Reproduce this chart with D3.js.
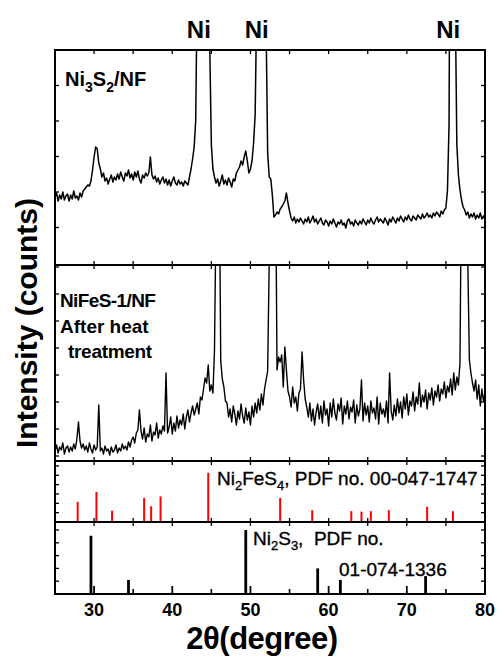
<!DOCTYPE html>
<html><head><meta charset="utf-8">
<script src="https://cdn.jsdelivr.net/npm/d3@7"></script>
<style>html,body{margin:0;padding:0;background:#fff}svg{display:block}</style>
</head><body>
<script>
// ---------------- DATA ----------------
const thetaStart = 25, thetaStep = 0.2;           // measurement grid (2θ, degree)
const xTicksMajor = [30, 40, 50, 60, 70, 80];
const xTickLabels = ["30", "40", "50", "60", "70", "80"];
const xTicksMinor = [35, 45, 55, 65, 75];

// Ni3S2/NF intensity (a.u.), 25.0 .. 80.0 step 0.2
const ni3s2 = [
 68,72,64,70,66,73,65,69,71,64,
 70,66,74,67,69,65,72,68,74,76,
 78,80,79,84,95,108,118,116,102,96,
 88,92,84,87,81,86,90,83,88,85,
 91,86,93,88,84,92,89,95,87,91,
 85,93,88,94,86,82,90,87,92,89,
 92,108,90,86,89,83,87,81,85,88,
 82,86,80,85,79,84,88,82,80,85,
 81,83,79,84,82,80,88,96,106,118,
 145,290,520,800,980,1000,880,620,420,215,
 120,96,88,82,86,79,84,90,81,85,
 80,87,83,78,86,84,92,95,98,104,
 100,108,114,104,92,96,104,122,150,260,
 600,900,1000,850,500,240,112,88,86,70,
 48,50,53,51,56,58,61,64,72,62,
 54,47,44,48,42,46,43,47,44,41,
 46,43,48,42,45,49,43,46,41,44,
 47,42,40,45,43,39,44,41,46,42,
 38,43,41,45,40,42,37,44,46,41,
 43,39,45,42,40,44,41,46,43,40,
 45,42,47,43,41,45,48,43,46,44,
 42,47,44,40,46,43,48,45,42,47,
 44,49,46,43,48,45,50,46,44,49,
 47,45,50,48,46,51,47,49,52,48,
 50,47,52,49,53,51,48,54,51,55,
 57,75,140,500,900,700,260,120,90,75,
 65,58,55,50,53,47,51,48,52,46,
 50,47,52,46,49,45
];

// NiFeS-1/NF after heat treatment intensity (a.u.), 25.0 .. 80.0 step 0.2
const nifes = [
 10,16,8,14,11,18,7,13,15,9,
 14,10,17,12,22,39,20,13,17,11,
 15,9,18,12,8,16,11,14,56,10,
 13,7,15,10,12,6,14,9,11,16,
 8,13,10,17,12,15,11,19,14,21,
 24,18,28,31,51,30,22,33,19,27,
 24,36,20,29,26,38,23,31,27,35,
 30,88,28,34,44,27,38,30,45,33,
 41,36,47,32,44,51,39,48,55,46,
 52,58,47,64,61,72,83,78,96,70,
 76,68,111,250,800,300,100,82,74,60,
 58,44,52,39,55,47,36,50,42,57,
 45,38,53,41,49,36,55,44,58,48,
 62,51,67,56,72,81,90,200,800,900,
 700,300,91,104,99,106,74,114,91,70,
 64,54,74,58,64,50,68,72,109,81,
 62,54,44,58,40,52,36,49,57,42,
 55,38,60,46,52,35,58,44,62,48,
 41,57,50,63,37,55,47,60,42,54,
 49,61,38,56,45,52,81,40,58,46,
 55,39,60,48,53,42,64,37,58,47,
 52,44,60,38,88,50,41,56,45,62,
 48,59,43,64,52,67,46,60,55,69,
 50,64,57,78,54,66,59,71,52,68,
 61,73,56,70,64,76,60,72,67,79,
 63,75,69,82,66,88,71,84,76,98,
 300,800,900,500,200,101,88,78,70,81,
 62,76,55,72,60,68
];

// Reference patterns
const ni2fes4Pos = [27.9, 30.3, 32.3, 36.4, 37.3, 38.5, 44.6, 53.8, 57.9, 62.9, 64.2, 65.4, 67.7, 72.6, 75.9];
const ni2fes4Int = [41, 61, 23, 49, 32, 52, 100, 49, 24, 22, 21, 22, 24, 31, 22];
const ni2s3Pos = [29.6, 34.4, 49.4, 58.6, 61.5, 72.4];
const ni2s3Int = [91, 22, 100, 40, 22, 28];

const niPeakLabelPos = [43.4, 50.8, 75.3];
const niPeakLabel = "Ni";

// ---------------- LAYOUT ----------------
const W = 501, H = 660;
const L = 55, R = 485;
const P1 = [50, 265], P2 = [265, 461], P3 = [461, 522], P4 = [522, 594];
const FONT = "'Liberation Sans', Arial, Helvetica, sans-serif";

const svg = d3.select("body").append("svg").attr("width", W).attr("height", H)
  .style("font-family", FONT);
svg.append("rect").attr("width", W).attr("height", H).attr("fill", "#fff");

const x = d3.scaleLinear().domain([25, 80]).range([L, R]);
const y1 = d3.scaleLinear().domain([0, 215]).range([P1[1], P1[0]]);
const y2 = d3.scaleLinear().domain([0, 196]).range([P2[1], P2[0]]);
const y3 = d3.scaleLinear().domain([0, 124]).range([P3[1], P3[0]]);
const y4 = d3.scaleLinear().domain([0, 112.5]).range([P4[1], P4[0]]);

const defs = svg.append("defs");
function clip(id, p) {
  defs.append("clipPath").attr("id", id).append("rect")
    .attr("x", L).attr("y", p[0]).attr("width", R - L).attr("height", p[1] - p[0]);
}
clip("c1", P1); clip("c2", P2);

const theta = i => thetaStart + i * thetaStep;

// curves
const line1 = d3.line().x((d, i) => x(theta(i))).y(d => y1(d));
svg.append("path").datum(ni3s2).attr("d", line1).attr("clip-path", "url(#c1)")
  .attr("fill", "none").attr("stroke", "#000").attr("stroke-width", 1.5).attr("stroke-linejoin", "round");

const line2 = d3.line().x((d, i) => x(theta(i))).y(d => y2(d));
svg.append("path").datum(nifes).attr("d", line2).attr("clip-path", "url(#c2)")
  .attr("fill", "none").attr("stroke", "#000").attr("stroke-width", 1.4).attr("stroke-linejoin", "round");

// bars
svg.append("g").selectAll("line").data(ni2fes4Pos).join("line")
  .attr("x1", d => x(d)).attr("x2", d => x(d))
  .attr("y1", y3(0)).attr("y2", (d, i) => y3(ni2fes4Int[i]))
  .attr("stroke", "#ff0000").attr("stroke-width", 2);
svg.append("g").selectAll("line").data(ni2s3Pos).join("line")
  .attr("x1", d => x(d)).attr("x2", d => x(d))
  .attr("y1", y4(0)).attr("y2", (d, i) => y4(ni2s3Int[i]))
  .attr("stroke", "#000").attr("stroke-width", 2.8);

// ticks
const tg = svg.append("g").attr("stroke", "#000").attr("stroke-width", 1.3);
const xs5 = d3.range(30, 80, 5);
[P1, P2, P3, P4].forEach((p, k) => {
  xs5.forEach(v => {
    tg.append("line").attr("x1", x(v)).attr("x2", x(v)).attr("y1", p[0]).attr("y2", p[0] + 4);
    if (k < 3) tg.append("line").attr("x1", x(v)).attr("x2", x(v)).attr("y1", p[1]).attr("y2", p[1] - 4);
  });
});
xTicksMajor.forEach(v => tg.append("line").attr("x1", x(v)).attr("x2", x(v)).attr("y1", P4[1]).attr("y2", P4[1] - 8).attr("stroke-width", 1.8));
xTicksMinor.forEach(v => tg.append("line").attr("x1", x(v)).attr("x2", x(v)).attr("y1", P4[1]).attr("y2", P4[1] - 5).attr("stroke-width", 1.6));

const yTickSets = [
  [y1, d3.range(37.5, 215, 35.5)],
  [y2, d3.range(5, 196, 27)],
  [y3, d3.range(19, 124, 19)],
  [y4, d3.range(20, 112, 20)]
];
yTickSets.forEach(([s, vals]) => {
  vals.forEach(v => {
    tg.append("line").attr("x1", L).attr("x2", L + 4).attr("y1", s(v)).attr("y2", s(v));
    tg.append("line").attr("x1", R).attr("x2", R - 4).attr("y1", s(v)).attr("y2", s(v));
  });
});

// frame and dividers
svg.append("rect").attr("x", L).attr("y", P1[0]).attr("width", R - L).attr("height", P4[1] - P1[0])
  .attr("fill", "none").attr("stroke", "#000").attr("stroke-width", 2);
[P1[1], P2[1], P3[1]].forEach(yy => svg.append("line").attr("x1", L).attr("x2", R)
  .attr("y1", yy).attr("y2", yy).attr("stroke", "#000").attr("stroke-width", 2));

// tick labels
svg.append("g").selectAll("text").data(xTicksMajor).join("text")
  .attr("x", d => x(d)).attr("y", 616).attr("text-anchor", "middle")
  .attr("font-size", 18).attr("font-weight", "bold").text((d, i) => xTickLabels[i]);

// Ni labels
svg.append("g").selectAll("text").data(niPeakLabelPos).join("text")
  .attr("x", d => x(d)).attr("y", 38).attr("text-anchor", "middle")
  .attr("font-size", 24).attr("font-weight", "bold").text(niPeakLabel);

// panel labels
function sub(t, parts, size, sz) {
  parts.forEach(([s, isSub]) => {
    const ts = t.append("tspan").text(s);
    if (isSub) ts.attr("font-size", sz).attr("dy", size * 0.28);
    else if (ts.node().previousSibling && ts.node().previousSibling.getAttribute("font-size")) ts.attr("dy", -size * 0.28);
  });
}
const t1 = svg.append("text").attr("x", 65).attr("y", 86).attr("font-size", 20).attr("font-weight", "bold");
sub(t1, [["Ni", 0], ["3", 1], ["S", 0], ["2", 1], ["/NF", 0]], 20, 14);

const t2 = svg.append("g").attr("font-size", 19).attr("font-weight", "bold");
t2.append("text").attr("x", 60).attr("y", 307).attr("letter-spacing", -0.6).text("NiFeS-1/NF");
t2.append("text").attr("x", 60).attr("y", 333).text("After heat");
t2.append("text").attr("x", 68).attr("y", 358).attr("letter-spacing", -0.3).text("treatment");

const pdf = svg.append("g").attr("font-size", 19).attr("stroke", "#000").attr("stroke-width", 0.35);
const t3 = pdf.append("text").attr("x", 217).attr("y", 485);
sub(t3, [["Ni", 0], ["2", 1], ["FeS", 0], ["4", 1], [", PDF no. 00-047-1747", 0]], 19, 13);
const t4 = pdf.append("text").attr("x", 253).attr("y", 545).attr("xml:space", "preserve");
sub(t4, [["Ni", 0], ["2", 1], ["S", 0], ["3", 1], [",  PDF no.", 0]], 19, 13);
pdf.append("text").attr("x", 339).attr("y", 576).text("01-074-1336");

// axis titles
svg.append("text").attr("transform", "translate(37,323) rotate(-90)").attr("text-anchor", "middle")
  .attr("font-size", 30).attr("font-weight", "bold").text("Intensity (counts)");
svg.append("text").attr("x", 262).attr("y", 649).attr("text-anchor", "middle")
  .attr("font-size", 31).attr("font-weight", "bold").attr("letter-spacing", -0.5).text("2θ(degree)");
</script>
</body></html>
